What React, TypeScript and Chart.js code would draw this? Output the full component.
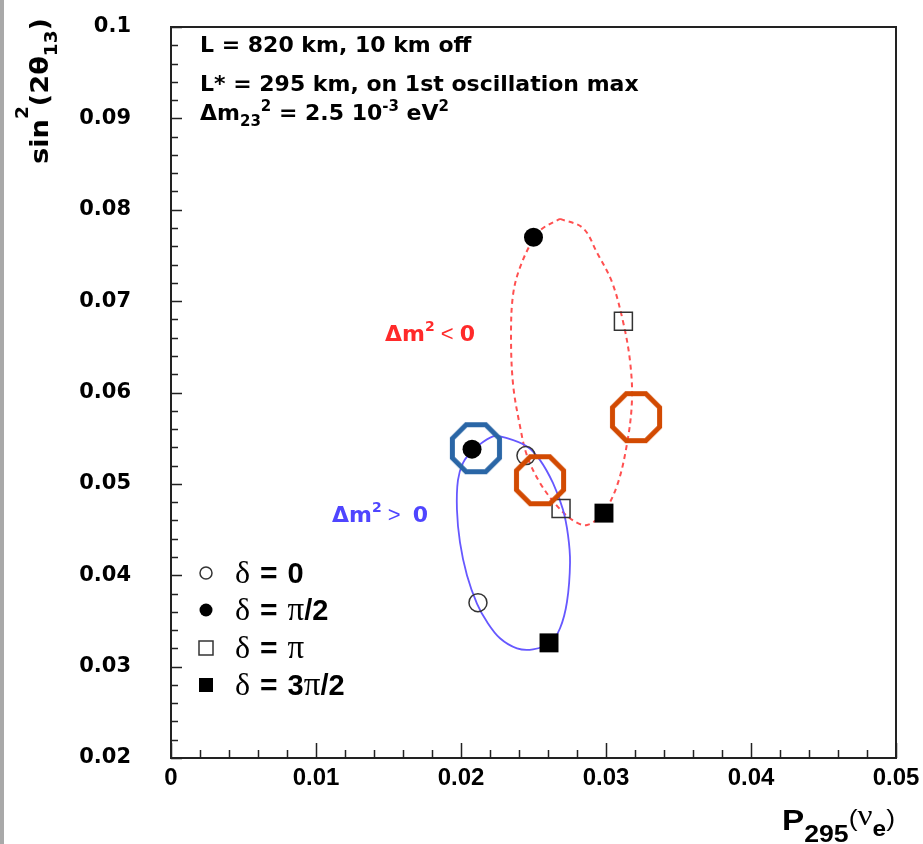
import React, { useEffect, useRef } from 'react';
import { Chart, registerables } from 'chart.js';

Chart.register(...registerables);

// ---- axis ticks ----
const xTickValues = [0, 0.01, 0.02, 0.03, 0.04, 0.05];
const xTickLabels = ['0', '0.01', '0.02', '0.03', '0.04', '0.05'];
const yTickValues = [0.02, 0.03, 0.04, 0.05, 0.06, 0.07, 0.08, 0.09, 0.1];
const yTickLabels = ['0.02', '0.03', '0.04', '0.05', '0.06', '0.07', '0.08', '0.09', '0.1'];

// ---- Δm² > 0 curve (solid blue) ----
const posX = [0.02076, 0.02221, 0.02317, 0.02455, 0.02545, 0.02634, 0.02703, 0.02738, 0.02752, 0.02731, 0.02683, 0.02614, 0.02497, 0.02386, 0.02269, 0.02179, 0.0211, 0.02041, 0.01993, 0.01972, 0.01979, 0.02014];
const posY = [0.0537, 0.0552, 0.055, 0.0541, 0.0526, 0.0501, 0.0472, 0.0444, 0.0414, 0.0371, 0.0342, 0.0326, 0.0319, 0.032, 0.0331, 0.0349, 0.0369, 0.04, 0.0436, 0.0472, 0.0504, 0.0523];

// ---- Δm² < 0 curve (dashed red) ----
const negX = [0.02683, 0.02841, 0.02938, 0.03041, 0.03117, 0.03166, 0.03179, 0.03145, 0.03076, 0.02979, 0.02869, 0.02772, 0.02662, 0.02545, 0.02455, 0.02407, 0.02359, 0.02345, 0.02359, 0.02407, 0.02503, 0.02566];
const negY = [0.079, 0.078, 0.0753, 0.0721, 0.0678, 0.0634, 0.0591, 0.0544, 0.0498, 0.0468, 0.0455, 0.046, 0.0476, 0.0501, 0.0531, 0.0563, 0.0609, 0.0663, 0.0707, 0.0737, 0.0769, 0.078];

// ---- δ markers: [Δm²>0, Δm²<0] ----
const d0X = [0.02117, 0.02448];
const d0Y = [0.037, 0.0531];
const dHalfPiX = [0.02076, 0.025];
const dHalfPiY = [0.0538, 0.077];
const dPiX = [0.0269, 0.0312];
const dPiY = [0.0473, 0.0678];
const d3HalfPiX = [0.02607, 0.02986];
const d3HalfPiY = [0.0326, 0.0468];

// ---- highlighted points (octagons) ----
const hiBlueX = [0.02103];
const hiBlueY = [0.0539];
const hiOrangeX = [0.02545, 0.03207];
const hiOrangeY = [0.0504, 0.0573];

// ---- curve labels (data coordinates) ----
const negLabelPos = { x: 0.01476, y: 0.0656 };
const posLabelPos = { x: 0.0111, y: 0.0458 };

const DJB = (px: number) => `bold ${px}px "DejaVu Sans"`;
const LSB = (px: number) => `bold ${px}px "Liberation Sans"`;
const LS = (px: number) => `${px}px "Liberation Sans"`;
const SERIF = (px: number) => `${px}px "Liberation Serif"`;

type Seg = { t: string; font: string; dy?: number };

function segWidth(ctx: CanvasRenderingContext2D, segs: Seg[]) {
  let w = 0;
  for (const s of segs) {
    ctx.font = s.font;
    w += ctx.measureText(s.t).width;
  }
  return w;
}

function drawRich(
  ctx: CanvasRenderingContext2D,
  x: number,
  y: number,
  segs: Seg[],
  color: string,
  align: 'left' | 'right' = 'left',
  fitWidth?: number,
) {
  const w = segWidth(ctx, segs);
  const sx = fitWidth ? fitWidth / w : 1;
  ctx.save();
  ctx.translate(x, y);
  ctx.scale(sx, 1);
  let cx = align === 'right' ? -w : 0;
  ctx.textAlign = 'left';
  ctx.textBaseline = 'alphabetic';
  ctx.fillStyle = color;
  for (const s of segs) {
    ctx.font = s.font;
    ctx.fillText(s.t, cx, s.dy || 0);
    cx += ctx.measureText(s.t).width;
  }
  ctx.restore();
}

const pts = (xs: number[], ys: number[]) => xs.map((x, i) => ({ x, y: ys[i] }));
const closed = (xs: number[], ys: number[]) => {
  const p = pts(xs, ys);
  return [...p, p[0]];
};

function octagon(color: string) {
  const c = document.createElement('canvas');
  c.width = 62;
  c.height = 62;
  const g = c.getContext('2d')!;
  const R = 25.5;
  g.beginPath();
  for (let i = 0; i < 8; i++) {
    const a = Math.PI / 8 + (i * Math.PI) / 4;
    const px = 31 + R * Math.cos(a);
    const py = 31 + R * Math.sin(a);
    if (i === 0) g.moveTo(px, py);
    else g.lineTo(px, py);
  }
  g.closePath();
  g.strokeStyle = color;
  g.lineWidth = 5;
  g.lineJoin = 'miter';
  g.stroke();
  return c;
}

const decorPlugin = {
  id: 'decor',
  beforeDraw(chart: any) {
    const ctx = chart.ctx as CanvasRenderingContext2D;
    ctx.save();
    ctx.fillStyle = '#ffffff';
    ctx.fillRect(0, 0, chart.width, chart.height);
    ctx.fillStyle = '#a9a9a9';
    ctx.fillRect(0, 0, 4, chart.height);
    ctx.restore();
  },
  afterDraw(chart: any) {
    const ctx = chart.ctx as CanvasRenderingContext2D;
    const xs = chart.scales.x;
    const ys = chart.scales.y;
    const { left, right, top, bottom } = chart.chartArea;
    ctx.save();
    // frame
    ctx.strokeStyle = '#222';
    ctx.lineWidth = 2;
    ctx.strokeRect(left, top, right - left, bottom - top);
    // ticks
    ctx.lineWidth = 1.5;
    ctx.beginPath();
    for (let k = 0; k <= 40; k++) {
      const v = 0.02 + k * 0.002;
      const py = Math.round(ys.getPixelForValue(v)) + 0.5;
      const len = k % 5 === 0 ? 11 : 7;
      ctx.moveTo(left, py);
      ctx.lineTo(left + len, py);
    }
    for (let k = 0; k <= 25; k++) {
      const v = k * 0.002;
      const px = Math.round(xs.getPixelForValue(v)) + 0.5;
      const len = k % 5 === 0 ? 15 : 8;
      ctx.moveTo(px, bottom);
      ctx.lineTo(px, bottom - len);
    }
    ctx.stroke();
    ctx.restore();

    // info box text
    const tx = 200;
    drawRich(ctx, tx, 52, [{ t: 'L = 820 km, 10 km off', font: DJB(22) }], '#000');
    drawRich(ctx, tx, 91, [{ t: 'L* = 295 km, on 1st oscillation max', font: DJB(22) }], '#000');
    drawRich(ctx, tx, 120, [
      { t: 'Δm', font: DJB(22) },
      { t: '23', font: DJB(15), dy: 6 },
      { t: '2', font: DJB(15), dy: -9 },
      { t: ' = 2.5 10', font: DJB(22) },
      { t: '-3', font: DJB(15), dy: -9 },
      { t: ' eV', font: DJB(22) },
      { t: '2', font: DJB(15), dy: -9 },
    ], '#000');

    // curve labels
    drawRich(ctx, xs.getPixelForValue(negLabelPos.x), ys.getPixelForValue(negLabelPos.y), [
      { t: 'Δm', font: DJB(22) },
      { t: '2', font: DJB(14), dy: -10 },
      { t: ' < ', font: LS(22) },
      { t: '0', font: DJB(22) },
    ], '#ff2a2a');
    drawRich(ctx, xs.getPixelForValue(posLabelPos.x), ys.getPixelForValue(posLabelPos.y), [
      { t: 'Δm', font: DJB(22) },
      { t: '2', font: DJB(14), dy: -10 },
      { t: ' >  ', font: LS(22) },
      { t: '0', font: DJB(22) },
    ], '#4f45ff');

    // legend
    const mx = 206;
    const rows = [573, 610, 648, 685];
    ctx.save();
    ctx.lineWidth = 1.5;
    ctx.strokeStyle = '#333';
    ctx.fillStyle = '#000';
    ctx.beginPath();
    ctx.arc(mx, rows[0], 6, 0, Math.PI * 2);
    ctx.stroke();
    ctx.beginPath();
    ctx.arc(mx, rows[1], 6.5, 0, Math.PI * 2);
    ctx.fill();
    ctx.strokeRect(mx - 7, rows[2] - 7, 14, 14);
    ctx.fillRect(mx - 7, rows[3] - 7, 14, 14);
    ctx.restore();
    const lx = 235;
    const dl: Seg = { t: 'δ', font: SERIF(32) };
    const sp: Seg = { t: ' ', font: LSB(36) };
    const eqs: Seg[] = [sp, { t: '=', font: LSB(30) }, sp];
    const pi: Seg = { t: 'π', font: SERIF(33) };
    const num = (t: string): Seg => ({ t, font: LSB(29) });
    drawRich(ctx, lx, rows[0] + 10, [dl, ...eqs, num('0')], '#000');
    drawRich(ctx, lx, rows[1] + 10, [dl, ...eqs, pi, num('/2')], '#000');
    drawRich(ctx, lx, rows[2] + 10, [dl, ...eqs, pi], '#000');
    drawRich(ctx, lx, rows[3] + 10, [dl, ...eqs, num('3'), pi, num('/2')], '#000');

    // x-axis title
    drawRich(ctx, 895, 830, [
      { t: 'P', font: LSB(30) },
      { t: '295', font: LSB(24), dy: 12 },
      { t: '(', font: LS(24), dy: -4 },
      { t: 'ν', font: SERIF(30), dy: -5 },
      { t: 'e', font: LSB(22), dy: 6 },
      { t: ')', font: LS(24), dy: -4 },
    ], '#000', 'right', 113);

    // y-axis title (rotated)
    const ysegs: Seg[] = [
      { t: 'sin', font: DJB(25) },
      { t: '2', font: DJB(17), dy: -20 },
      { t: '(2θ', font: DJB(25) },
      { t: '13', font: DJB(17), dy: 9 },
      { t: ')', font: DJB(25) },
    ];
    ctx.save();
    ctx.translate(48, 18);
    ctx.rotate(-Math.PI / 2);
    drawRich(ctx, 0, 0, ysegs, '#000', 'right', 146);
    ctx.restore();
  },
};

export default function App() {
  const ref = useRef<HTMLCanvasElement | null>(null);
  useEffect(() => {
    if (!ref.current) return;
    const blueOct = octagon('#2a66a6');
    const orangeOct = octagon('#d24a02');
    const chart = new Chart(ref.current, {
      type: 'scatter',
      data: {
        datasets: [
          { label: 'hiBlue', data: pts(hiBlueX, hiBlueY), pointStyle: blueOct as any, pointRadius: 26, order: 1 },
          { label: 'hiOrange', data: pts(hiOrangeX, hiOrangeY), pointStyle: orangeOct as any, pointRadius: 26, order: 1 },
          { label: 'δ = 0', data: pts(d0X, d0Y), pointStyle: 'circle', pointRadius: 9, pointBorderWidth: 1.5, pointBorderColor: '#333', pointBackgroundColor: 'rgba(0,0,0,0)', order: 3 },
          { label: 'δ = π/2', data: pts(dHalfPiX, dHalfPiY), pointStyle: 'circle', pointRadius: 9.5, pointBorderWidth: 0, pointBackgroundColor: '#000', order: 3 },
          { label: 'δ = π', data: pts(dPiX, dPiY), pointStyle: 'rect', pointRadius: 12.7, pointBorderWidth: 1.5, pointBorderColor: '#333', pointBackgroundColor: 'rgba(0,0,0,0)', order: 3 },
          { label: 'δ = 3π/2', data: pts(d3HalfPiX, d3HalfPiY), pointStyle: 'rect', pointRadius: 13.4, pointBorderWidth: 0, pointBackgroundColor: '#000', order: 3 },
          { label: 'Δm² > 0', data: closed(posX, posY), showLine: true, pointRadius: 0, borderColor: '#6658ff', borderWidth: 1.8, tension: 0.35, order: 5 } as any,
          { label: 'Δm² < 0', data: closed(negX, negY), showLine: true, pointRadius: 0, borderColor: '#ff5050', borderWidth: 2, borderDash: [5, 4], tension: 0.35, order: 5 } as any,
        ],
      },
      options: {
        responsive: false,
        animation: false,
        devicePixelRatio: 1,
        layout: { padding: { left: 0, top: 19, right: 27, bottom: 0 } },
        plugins: { legend: { display: false }, tooltip: { enabled: false } },
        scales: {
          x: {
            type: 'linear',
            min: 0,
            max: 0.05,
            grid: { display: false, drawTicks: true, tickLength: 6 },
            border: { display: false },
            afterBuildTicks: (s: any) => { s.ticks = xTickValues.map((v) => ({ value: v })); },
            afterFit: (s: any) => { s.height = 86; },
            ticks: {
              autoSkip: false,
              maxRotation: 0,
              padding: 0,
              color: '#000',
              font: { family: '"Liberation Sans"', size: 24, weight: 'bold' },
              callback: (v: any) => xTickLabels[xTickValues.findIndex((t) => Math.abs(t - v) < 1e-9)] ?? '',
            },
          },
          y: {
            type: 'linear',
            min: 0.02,
            max: 0.1,
            grid: { display: false, drawTicks: true, tickLength: 40 },
            border: { display: false },
            afterBuildTicks: (s: any) => { s.ticks = yTickValues.map((v) => ({ value: v })); },
            afterFit: (s: any) => { s.width = 171; },
            ticks: {
              autoSkip: false,
              padding: 0,
              color: '#000',
              font: { family: '"DejaVu Sans"', size: 21, weight: 'bold' },
              callback: (v: any) => yTickLabels[yTickValues.findIndex((t) => Math.abs(t - v) < 1e-9)] ?? '',
            },
          },
        },
      },
      plugins: [decorPlugin],
    } as any);
    return () => chart.destroy();
  }, []);
  return (
    <div style={{ position: 'absolute', left: 0, top: 0, width: 923, height: 844 }}>
      <canvas ref={ref} width={923} height={844} style={{ display: 'block', width: 923, height: 844 }} />
    </div>
  );
}
